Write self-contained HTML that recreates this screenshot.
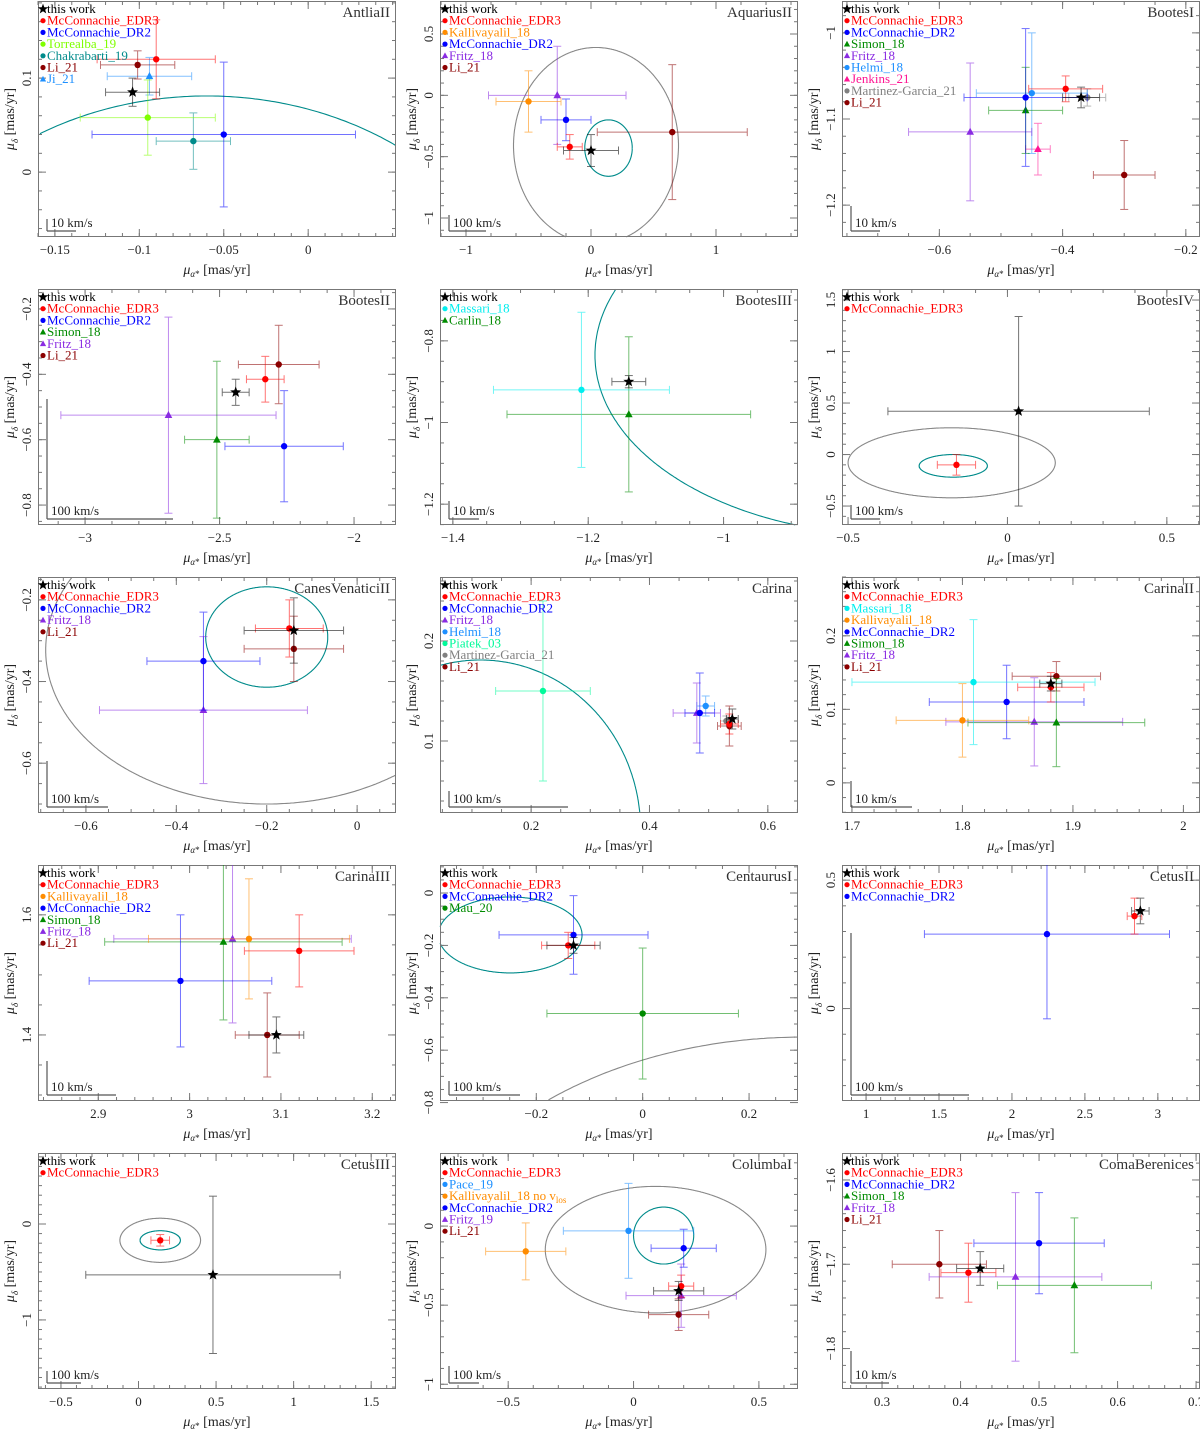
<!DOCTYPE html>
<html><head><meta charset="utf-8"><style>
html,body{margin:0;background:#fff;overflow:hidden;width:1200px;height:1437px}
svg{display:block}
svg text{font-family:"Liberation Serif","DejaVu Serif",serif}
</style></head><body>
<svg id="fig" width="1200" height="1437" xmlns="http://www.w3.org/2000/svg"></svg>
<script>
// ---------- data (per panel small arrays) ----------
const antliaSrc=["TW","E3","D2","TO","CH","LI","JI"];
const antliaX=[-0.104,-0.09,-0.05,-0.095,-0.068,-0.101,-0.094];
const antliaY=[0.085,0.12,0.04,0.058,0.033,0.114,0.102];
const antliaXe=[0.016,0.035,0.078,0.04,0.022,0.022,0.025];
const antliaYe=[0.015,0.042,0.077,0.04,0.03,0.015,0.02];

const aquSrc=["TW","E3","KA","D2","FR","LI"];
const aquX=[0,-0.17,-0.5,-0.2,-0.27,0.65];
const aquY=[-0.45,-0.42,-0.05,-0.2,0,-0.3];
const aquXe=[0.22,0.1,0.26,0.2,0.55,0.6];
const aquYe=[0.13,0.1,0.25,0.17,0.4,0.55];

const booSrc=["TW","E3","D2","SI","FR","HE","JE","MG","LI"];
const booX=[-0.37,-0.395,-0.46,-0.46,-0.55,-0.45,-0.44,-0.36,-0.3];
const booY=[-1.075,-1.065,-1.075,-1.09,-1.115,-1.07,-1.135,-1.075,-1.165];
const booXe=[0.03,0.06,0.1,0.06,0.1,0.09,0.02,0.03,0.05];
const booYe=[0.012,0.015,0.08,0.05,0.08,0.07,0.03,0.01,0.04];

const boo2Src=["TW","E3","D2","SI","FR","LI"];
const boo2X=[-2.44,-2.33,-2.26,-2.51,-2.69,-2.28];
const boo2Y=[-0.455,-0.415,-0.62,-0.6,-0.525,-0.37];
const boo2Xe=[0.05,0.07,0.22,0.12,0.4,0.15];
const boo2Ye=[0.04,0.07,0.17,0.24,0.3,0.12];

const boo3Src=["TW","MA","CA"];
const boo3X=[-1.14,-1.21,-1.14];
const boo3Y=[-0.9,-0.92,-0.98];
const boo3Xe=[0.025,0.13,0.18];
const boo3Ye=[0.015,0.19,0.19];

const boo4Src=["TW","E3"];
const boo4X=[0.035,-0.16];
const boo4Y=[0.42,-0.1];
const boo4Xe=[0.41,0.06];
const boo4Ye=[0.92,0.1];

const cvnSrc=["TW","E3","D2","FR","LI"];
const cvnX=[-0.14,-0.15,-0.34,-0.34,-0.14];
const cvnY=[-0.275,-0.27,-0.35,-0.47,-0.32];
const cvnXe=[0.11,0.075,0.125,0.23,0.11];
const cvnYe=[0.08,0.07,0.12,0.18,0.08];

const carSrc=["TW","E3","D2","FR","HE","PI","MG","LI"];
const carX=[0.54,0.535,0.485,0.48,0.495,0.22,0.53,0.535];
const carY=[0.122,0.117,0.128,0.128,0.135,0.15,0.12,0.115];
const carXe=[0.01,0.015,0.025,0.04,0.015,0.08,0.01,0.02];
const carYe=[0.01,0.01,0.04,0.03,0.01,0.09,0.005,0.02];

const car2Src=["TW","E3","MA","KA","D2","SI","FR","LI"];
const car2X=[1.88,1.88,1.81,1.8,1.84,1.885,1.865,1.885];
const car2Y=[0.135,0.13,0.137,0.085,0.11,0.082,0.083,0.145];
const car2Xe=[0.01,0.03,0.11,0.06,0.07,0.08,0.08,0.04];
const car2Ye=[0.01,0.02,0.085,0.05,0.05,0.06,0.06,0.02];

const car3Src=["TW","E3","KA","D2","SI","FR","LI"];
const car3X=[3.095,3.12,3.065,2.99,3.037,3.047,3.085];
const car3Y=[1.4,1.54,1.56,1.49,1.555,1.56,1.4];
const car3Xe=[0.03,0.06,0.11,0.1,0.13,0.13,0.035];
const car3Ye=[0.03,0.06,0.1,0.11,0.13,0.14,0.07];

const cenSrc=["TW","E3","D2","MAU"];
const cenX=[-0.13,-0.14,-0.13,0];
const cenY=[-0.2,-0.2,-0.16,-0.46];
const cenXe=[0.05,0.05,0.14,0.18];
const cenYe=[0.03,0.05,0.15,0.25];

const cet2Src=["TW","E3","D2"];
const cet2X=[2.88,2.84,2.24];
const cet2Y=[0.38,0.36,0.29];
const cet2Xe=[0.06,0.05,0.84];
const cet2Ye=[0.05,0.07,0.33];

const cet3Src=["TW","E3"];
const cet3X=[0.48,0.14];
const cet3Y=[-0.53,-0.17];
const cet3Xe=[0.82,0.06];
const cet3Ye=[0.82,0.06];

const colSrc=["TW","E3","PA","KAN","D2","FR19","LI"];
const colX=[0.18,0.19,-0.02,-0.43,0.2,0.19,0.18];
const colY=[-0.41,-0.38,-0.03,-0.16,-0.14,-0.44,-0.56];
const colXe=[0.1,0.05,0.26,0.16,0.13,0.22,0.12];
const colYe=[0.06,0.07,0.3,0.18,0.12,0.2,0.1];

const comSrc=["TW","E3","D2","SI","FR","LI"];
const comX=[0.425,0.41,0.5,0.545,0.47,0.373];
const comY=[-1.705,-1.71,-1.675,-1.725,-1.715,-1.70];
const comXe=[0.03,0.035,0.083,0.098,0.11,0.06];
const comYe=[0.02,0.035,0.06,0.08,0.1,0.04];

// ---------- styles ----------
const ST={TW:["this work","#000","star"],E3:["McConnachie_EDR3","#ff0000","c"],D2:["McConnachie_DR2","#0000ff","c"],
TO:["Torrealba_19","#7fff00","c"],CH:["Chakrabarti_19","#008b8b","c"],LI:["Li_21","#8b0000","c"],JI:["Ji_21","#1e90ff","t"],
KA:["Kallivayalil_18","#ff8c00","c"],FR:["Fritz_18","#8a2be2","t"],SI:["Simon_18","#008b00","t"],HE:["Helmi_18","#1e90ff","c"],
JE:["Jenkins_21","#ff1493","t"],MG:["Martinez-Garcia_21","#808080","c"],MA:["Massari_18","#00eeee","c"],CA:["Carlin_18","#008b00","t"],
PI:["Piatek_03","#00fa9a","c"],PA:["Pace_19","#1e90ff","c"],MAU:["Mau_20","#008b00","c"],KAN:["Kallivayalil_18 no v","#ff8c00","c"],
FR19:["Fritz_19","#8a2be2","t"]};

const panels=[
{n:"AntliaII",c:0,r:0,xl:[-0.16,0.052],yl:[-0.069,0.182],xt:[-0.15,-0.1,-0.05,0],yt:[0,0.1],xm:0.01,ym:0.02,src:antliaSrc,X:antliaX,Y:antliaY,XE:antliaXe,YE:antliaYe,el:[[-0.06,-0.2,0.192,0.281,"#008b8b"]],sb:[29,12,"10 km/s"]},
{n:"AquariusII",c:1,r:0,xl:[-1.208,1.656],yl:[-1.155,0.769],xt:[-1,0,1],yt:[-1,-0.5,0,0.5],xm:0.2,ym:0.1,src:aquSrc,X:aquX,Y:aquY,XE:aquXe,YE:aquYe,el:[[0.04,-0.41,0.66,0.8,"#888"],[0.14,-0.43,0.19,0.23,"#008b8b"]],sb:[37,16,"100 km/s"]},
{n:"BootesI",c:2,r:0,xl:[-0.758,-0.177],yl:[-1.237,-0.963],xt:[-0.6,-0.4,-0.2],yt:[-1.2,-1.1,-1],xm:0.05,ym:0.02,src:booSrc,X:booX,Y:booY,XE:booXe,YE:booYe,el:[],sb:[29,25,"10 km/s"]},
{n:"BootesII",c:0,r:1,xl:[-3.175,-1.844],yl:[-0.861,-0.139],xt:[-3,-2.5,-2],yt:[-0.8,-0.6,-0.4,-0.2],xm:0.1,ym:0.05,src:boo2Src,X:boo2X,Y:boo2Y,XE:boo2Xe,YE:boo2Ye,el:[],sb:[126,120,"100 km/s"]},
{n:"BootesIII",c:1,r:1,xl:[-1.419,-0.89],yl:[-1.251,-0.673],xt:[-1.4,-1.2,-1],yt:[-1.2,-1,-0.8],xm:0.05,ym:0.05,src:boo3Src,X:boo3X,Y:boo3Y,XE:boo3Xe,YE:boo3Ye,el:[[-0.746,-0.835,0.444,0.441,"#008b8b"]],sb:[30,18,"10 km/s"]},
{n:"BootesIV",c:2,r:1,xl:[-0.519,0.604],yl:[-0.684,1.607],xt:[-0.5,0,0.5],yt:[-0.5,0,0.5,1,1.5],xm:0.1,ym:0.1,src:boo4Src,X:boo4X,Y:boo4Y,XE:boo4Xe,YE:boo4Ye,el:[[-0.175,-0.08,0.325,0.34,"#888"],[-0.17,-0.11,0.107,0.11,"#008b8b"]],sb:[29,14,"100 km/s"]},
{n:"CanesVenaticiII",c:0,r:2,xl:[-0.706,0.086],yl:[-0.722,-0.144],xt:[-0.6,-0.4,-0.2,0],yt:[-0.6,-0.4,-0.2],xm:0.05,ym:0.05,src:cvnSrc,X:cvnX,Y:cvnY,XE:cvnXe,YE:cvnYe,el:[[-0.2,-0.291,0.135,0.123,"#008b8b"],[-0.2,-0.323,0.489,0.377,"#888"]],sb:[61,46,"100 km/s"]},
{n:"Carina",c:1,r:2,xl:[0.046,0.651],yl:[0.028,0.264],xt:[0.2,0.4,0.6],yt:[0.1,0.2],xm:0.05,ym:0.02,src:carSrc,X:carX,Y:carY,XE:carXe,YE:carYe,el:[[0.114,0.011,0.271,0.17,"#008b8b"]],sb:[119,16,"100 km/s"]},
{n:"CarinaII",c:2,r:2,xl:[1.691,2.015],yl:[-0.041,0.28],xt:[1.7,1.8,1.9,2],yt:[0,0.1,0.2],xm:0.02,ym:0.02,src:car2Src,X:car2X,Y:car2Y,XE:car2Xe,YE:car2Ye,el:[],sb:[61,26,"10 km/s"]},
{n:"CarinaIII",c:0,r:3,xl:[2.834,3.226],yl:[1.29,1.683],xt:[2.9,3,3.1,3.2],yt:[1.4,1.6],xm:0.02,ym:0.05,src:car3Src,X:car3X,Y:car3Y,XE:car3Xe,YE:car3Ye,el:[],sb:[69,34,"10 km/s"]},
{n:"CentaurusI",c:1,r:3,xl:[-0.381,0.292],yl:[-0.794,0.107],xt:[-0.2,0,0.2],yt:[-0.8,-0.6,-0.4,-0.2,0],xm:0.05,ym:0.05,src:cenSrc,X:cenX,Y:cenY,XE:cenXe,YE:cenYe,el:[[-0.249,-0.16,0.135,0.145,"#008b8b"],[0.3,-1.6,0.75,1.05,"#888"]],sb:[71,14,"100 km/s"]},
{n:"CetusII",c:2,r:3,xl:[0.835,3.289],yl:[-0.36,0.559],xt:[1,1.5,2,2.5,3],yt:[0,0.5],xm:0.1,ym:0.1,src:cet2Src,X:cet2X,Y:cet2Y,XE:cet2Xe,YE:cet2Ye,el:[],sb:[118,162,"100 km/s"]},
{n:"CetusIII",c:0,r:4,xl:[-0.648,1.66],yl:[-1.72,0.74],xt:[-0.5,0,0.5,1,1.5],yt:[-1,0],xm:0.1,ym:0.1,src:cet3Src,X:cet3X,Y:cet3Y,XE:cet3Xe,YE:cet3Ye,el:[[0.14,-0.17,0.26,0.23,"#888"],[0.14,-0.17,0.13,0.1,"#008b8b"]],sb:[34,12,"100 km/s"]},
{n:"ColumbaI",c:1,r:4,xl:[-0.772,0.656],yl:[-1.03,0.462],xt:[-0.5,0,0.5],yt:[-1,-0.5,0],xm:0.1,ym:0.1,src:colSrc,X:colX,Y:colY,XE:colXe,YE:colYe,el:[[0.088,-0.149,0.44,0.4,"#888"],[0.12,-0.06,0.12,0.18,"#008b8b"]],sb:[30,17,"100 km/s"]},
{n:"ComaBerenices",c:2,r:4,xl:[0.249,0.705],yl:[-1.848,-1.568],xt:[0.3,0.4,0.5,0.6,0.7],yt:[-1.8,-1.7,-1.6],xm:0.02,ym:0.02,src:comSrc,X:comX,Y:comY,XE:comXe,YE:comYe,el:[],sb:[38,32,"10 km/s"]}
];

// ---------- drawing ----------
const NS="http://www.w3.org/2000/svg";
const svg=document.getElementById("fig");
function mk(tag,at,parent){const e=document.createElementNS(NS,tag);for(const k in at)e.setAttribute(k,at[k]);(parent||svg).appendChild(e);return e;}
const COLL=[38,440,842],ROWT=[1,289,577,865,1153],W=358,H=236;
function fmt(v){let s=(+v.toFixed(4)).toString();return s.replace("-","\u2212");}
function star(g,cx,cy,R,col){let p=[];for(let i=0;i<10;i++){const rr=i%2?R*0.42:R;const a=-Math.PI/2+i*Math.PI/5;p.push((cx+rr*Math.cos(a)).toFixed(1)+","+(cy+rr*Math.sin(a)).toFixed(1));}return mk("polygon",{points:p.join(" "),fill:col},g);}
function marker(g,type,x,y,col,s){
  if(type==="star")return star(g,x,y,s*1.8,col);
  if(type==="t")return mk("polygon",{points:`${x},${y-s*1.3} ${x-s*1.2},${y+s*0.9} ${x+s*1.2},${y+s*0.9}`,fill:col},g);
  return mk("circle",{cx:x,cy:y,r:s,fill:col},g);
}
panels.forEach((P,pi)=>{
  const L=COLL[P.c],T=ROWT[P.r],R=L+W,B=T+H;
  const g=mk("g",{});
  
  
  const sx=v=>L+(v-P.xl[0])/(P.xl[1]-P.xl[0])*W;
  const sy=v=>B-(v-P.yl[0])/(P.yl[1]-P.yl[0])*H;
  const cid="clip"+pi;
  const cp=mk("clipPath",{id:cid},g);mk("rect",{x:L,y:T,width:W,height:H},cp);
  const eg=mk("g",{},g);
  P.el.forEach(e=>{
    const cx=sx(e[0]),cy=sy(e[1]),rx=Math.abs(sx(e[0]+e[2])-cx),ry=Math.abs(sy(e[1]+e[3])-cy);
    const N=720;let d="",pen=false;
    for(let k=0;k<=N;k++){const a=k/N*2*Math.PI;const x=cx+rx*Math.cos(a),y=cy+ry*Math.sin(a);
      const inside=x>=L&&x<=R&&y>=T&&y<=B;
      if(inside){d+=(pen?"L":"M")+x.toFixed(1)+","+y.toFixed(1);pen=true;}else pen=false;}
    if(d){const el=mk("path",{d:d,fill:"none",stroke:e[4],"stroke-width":1.1},eg);
    
    }});
  const fr=mk("rect",{x:L+0.5,y:T+0.5,width:W-1,height:H-1,fill:"none",stroke:"#777","stroke-width":1},g);
  
  
  const tk=mk("g",{stroke:"#777","stroke-width":1},g);
  const minorTicks=(lim,step)=>{const a=[];for(let v=Math.ceil(lim[0]/step-1e-6)*step;v<=lim[1]+1e-9;v+=step)a.push(v);return a;};
  minorTicks(P.xl,P.xm).forEach(v=>{const x=sx(v);mk("line",{x1:x,x2:x,y1:B,y2:B-4},tk);mk("line",{x1:x,x2:x,y1:T,y2:T+4},tk);});
  minorTicks(P.yl,P.ym).forEach(v=>{const y=sy(v);mk("line",{x1:L,x2:L+4,y1:y,y2:y},tk);mk("line",{x1:R,x2:R-4,y1:y,y2:y},tk);});
  P.xt.forEach(v=>{const x=sx(v);mk("line",{x1:x,x2:x,y1:B,y2:B-8},tk);mk("line",{x1:x,x2:x,y1:T,y2:T+8},tk);
    const t=mk("text",{x:x,y:B+17,"text-anchor":"middle","font-size":13,fill:"#222"},g);t.textContent=fmt(v);
    
    });
  P.yt.forEach(v=>{const y=sy(v);mk("line",{x1:L,x2:L+8,y1:y,y2:y},tk);mk("line",{x1:R,x2:R-8,y1:y,y2:y},tk);
    const t=mk("text",{x:L-7,y:y,"text-anchor":"middle","font-size":13,fill:"#222",transform:`rotate(-90 ${L-7} ${y})`},g);t.textContent=fmt(v);
    
    });
  const xt=mk("text",{x:L+W/2,y:B+37,"text-anchor":"middle","font-size":14,fill:"#222"},g);
  xt.innerHTML='<tspan font-style="italic">μ</tspan><tspan font-size="9" dy="3"><tspan font-style="italic">α</tspan>*</tspan><tspan dy="-3"> [mas/yr]</tspan>';
  
  
  const yx=L-24,yy=T+H/2;
  const yt=mk("text",{x:yx,y:yy,"text-anchor":"middle","font-size":14,fill:"#222",transform:`rotate(-90 ${yx} ${yy})`},g);
  yt.innerHTML='<tspan font-style="italic">μ</tspan><tspan font-size="9" dy="4" font-style="italic">δ</tspan><tspan dy="-4"> [mas/yr]</tspan>';
  
  
  const ti=mk("text",{x:R-6,y:T+16,"text-anchor":"end","font-size":15,fill:"#333"},g);ti.textContent=P.n;
  
  
  const sbg=mk("g",{stroke:"#555","stroke-width":1.2},g);
  
  
  const bx=L+9,by=B-6;
  mk("line",{x1:bx,x2:bx,y1:by,y2:by-P.sb[1]},sbg);mk("line",{x1:bx,x2:bx+P.sb[0],y1:by,y2:by},sbg);
  const sbt=mk("text",{x:bx+4,y:by-4,"font-size":13,fill:"#222"},g);sbt.textContent=P.sb[2];
  
  
  const pg=mk("g",{"clip-path":`url(#${cid})`},g);
  const order=P.src.map((s,i)=>i).reverse();
  order.forEach(i=>{
    const st=ST[P.src[i]],col=st[1];
    const x=sx(P.X[i]),y=sy(P.Y[i]);
    const x0=sx(P.X[i]-P.XE[i]),x1=sx(P.X[i]+P.XE[i]),y0=sy(P.Y[i]-P.YE[i]),y1=sy(P.Y[i]+P.YE[i]);
    const eb=mk("g",{stroke:col,"stroke-width":1,opacity:0.55},pg);
    
    
    mk("line",{x1:x0,x2:x1,y1:y,y2:y},eb);mk("line",{x1:x,x2:x,y1:y0,y2:y1},eb);
    [x0,x1].forEach(xx=>mk("line",{x1:xx,x2:xx,y1:y-4,y2:y+4},eb));
    [y0,y1].forEach(yy=>mk("line",{x1:x-4,x2:x+4,y1:yy,y2:yy},eb));
    const m=marker(pg,st[2],x,y,col,3.2);
    
    
  });
  P.src.forEach((s,i)=>{
    const st=ST[s],ly=T+12+i*11.7;
    const lg=mk("g",{},g);
    
    
    marker(lg,st[2],L+5,ly-4,st[1],st[2]==="star"?3:2.6);
    const t=mk("text",{x:L+9,y:ly,"font-size":13,fill:st[1]},lg);
    t.textContent=st[0];
    if(s==="KAN"){const ts=mk("tspan",{"font-size":9,dy:3},t);ts.textContent="los";}
  });
});
</script>
</body></html>
